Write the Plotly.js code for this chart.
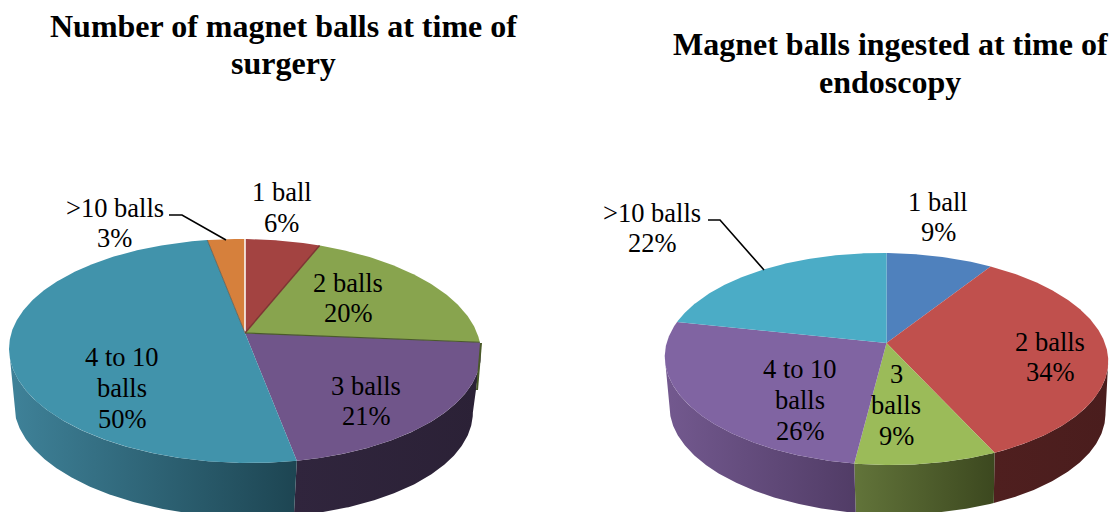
<!DOCTYPE html>
<html>
<head>
<meta charset="utf-8">
<script src="https://cdn.plot.ly/plotly-3.0.1.min.js"></script>
<style>html,body{margin:0;padding:0;background:#fff}#chart{width:1115px;height:512px}</style>
</head>
<body>
<div id="chart"></div>
<script>
// Survey results
const surgeryLabels = [['1 ball'], ['2 balls'], ['3 balls'], ['4 to 10', 'balls'], ['>10 balls']];
const surgeryValues = [6, 20, 21, 50, 3];
const endoscopyLabels = [['1 ball'], ['2 balls'], ['3', 'balls'], ['4 to 10', 'balls'], ['>10 balls']];
const endoscopyValues = [9, 34, 9, 26, 22];

// Slice colours: top face, then wall gradient left-to-right
const surgeryTop = ['#a34341', '#88a44e', '#70558a', '#4193ab', '#d6803c'];
const surgeryWall = [['#5c2625', '#5c2625'], ['#5c7034', '#4a5a28'], ['#30253d', '#2b2136'], ['#3f8299', '#1d4552'], ['#8a4f22', '#8a4f22']];
const endoscopyTop = ['#4f81bd', '#c0504d', '#9bbb59', '#8064a2', '#4bacc6'];
const endoscopyWall = [['#2e4d72', '#2e4d72'], ['#4f1f1f', '#4a1d1d'], ['#62743a', '#3c481f'], ['#73598f', '#513c66'], ['#2d6a7a', '#2d6a7a']];

// Perspective disc placement, in page pixels
const surgeryDisc = {cx: 245, cy: 333, a: 232.9, b: 109.1, k: 0.1607, dx: -1.5, dy: 58, shrink: 0.972, skew: 2.3, baseSkew: 4};
const endoscopyDisc = {cx: 886.5, cy: 343, a: 219.2, b: 103.6, k: 0.151, dx: 1, dy: 51.5, shrink: 0.983, skew: 2.3, baseSkew: 3.5};

function rim(d, deg, bottom) {
  const t = deg * Math.PI / 180, u = Math.sin(t), v = -Math.cos(t), w = 1 - d.k * v;
  const s = bottom ? d.shrink : 1, sk = bottom ? d.baseSkew : d.skew;
  return [d.cx + (bottom ? d.dx : 0) + d.a * s * u / w,
          d.cy + (bottom ? d.dy : 0) + (d.b * s * v + sk * u) / w];
}

function arc(d, from, to, bottom) {
  const n = Math.max(2, Math.ceil(Math.abs(to - from) * 2)), pts = [];
  for (let i = 0; i <= n; i++) pts.push(rim(d, from + (to - from) * i / n, bottom));
  return pts;
}

function pieTraces(values, topColors, wallColors, d) {
  const traces = [], edges = [];
  let acc = 0;
  values.forEach(v => { edges.push([acc, acc + v]); acc += v; });
  const base = {type: 'scatter', mode: 'lines', hoverinfo: 'skip', showlegend: false, line: {width: 0}};
  // The wall is visible only between the two silhouette angles of the disc
  const sil = Math.acos(-d.k) * 180 / Math.PI;
  edges.forEach((e, i) => {
    const a0 = Math.max(e[0] * 3.6, sil), a1 = Math.min(e[1] * 3.6, 360 - sil);
    if (a1 <= a0) return;
    const pts = arc(d, a0, a1, false).concat(arc(d, a1, a0, true));
    pts.push(pts[0]);
    traces.push(Object.assign({}, base, {
      x: pts.map(p => p[0]), y: pts.map(p => p[1]), fill: 'toself',
      fillgradient: {type: 'horizontal', colorscale: [[0, wallColors[i][0]], [1, wallColors[i][1]]]}
    }));
  });
  // Top faces
  edges.forEach((e, i) => {
    const pts = [[d.cx, d.cy]].concat(arc(d, e[0] * 3.6, e[1] * 3.6, false));
    pts.push([d.cx, d.cy]);
    traces.push(Object.assign({}, base, {
      x: pts.map(p => p[0]), y: pts.map(p => p[1]), fill: 'toself', fillcolor: topColors[i]
    }));
  });
  return traces;
}

// Thin seams between slices on the surgery disc
function seam(d, pct, color, width) {
  const p = rim(d, pct * 3.6, false);
  return {type: 'scatter', mode: 'lines', hoverinfo: 'skip', showlegend: false,
    x: [d.cx, p[0]], y: [d.cy, p[1]], line: {color: color, width: width}};
}

const cumulative = (vals, n) => vals.slice(0, n).reduce((s, v) => s + v, 0);

const traces = pieTraces(surgeryValues, surgeryTop, surgeryWall, surgeryDisc)
  .concat(pieTraces(endoscopyValues, endoscopyTop, endoscopyWall, endoscopyDisc))
  .concat([
    seam(surgeryDisc, 0, '#ffffff', 1.5),
    seam(surgeryDisc, cumulative(surgeryValues, 1), '#7d3533', 1.5),
    seam(surgeryDisc, cumulative(surgeryValues, 2), '#4a5a2a', 1.2),
    seam(surgeryDisc, cumulative(surgeryValues, 4), '#5a5a50', 0.8)
  ]);

const serif = '"Liberation Serif", "Times New Roman", serif';
const textLine = (text, x, y, size) => ({
  text: text, x: x, y: y, xref: 'x', yref: 'y', showarrow: false,
  xanchor: 'center', yanchor: 'middle', font: {family: serif, size: size, color: '#000'}
});
const sliceNote = (label, value, x, y) => {
  const lines = label.concat([value + '%']);
  return lines.map((t, i) => textLine(t, x, y + (i - (lines.length - 1) / 2) * 30.7, 26.5));
};

const surgeryAnchors = [[281.5, 207.5], [348, 298], [366, 401], [122, 388], [114.5, 223]];
const endoscopyAnchors = [[938, 217], [1050, 357], [896, 405], [800, 400], [652, 228]];

const annotations = [
  textLine('<b>Number of magnet balls at time of</b>', 283.5, 26, 32),
  textLine('<b>surgery</b>', 283, 63, 32),
  textLine('<b>Magnet balls ingested at time of</b>', 890.5, 44, 32),
  textLine('<b>endoscopy</b>', 889.5, 82, 32)
].concat(
  ...surgeryValues.map((v, i) => sliceNote(surgeryLabels[i], v, surgeryAnchors[i][0], surgeryAnchors[i][1])),
  ...endoscopyValues.map((v, i) => sliceNote(endoscopyLabels[i], v, endoscopyAnchors[i][0], endoscopyAnchors[i][1]))
);

// Leader lines for the two outside labels, plus the sliver of the 2-balls wall
const stroke = (path, color, width) => ({type: 'path', path: path, xref: 'x', yref: 'y', line: {color: color, width: width}});
const shapes = [
  stroke('M 169 215 L 182 215 L 226 240', '#000', 1.6),
  stroke('M 708 220 L 720 220 L 764 270', '#000', 1.6),
  stroke('M 481 343 L 477 390', '#4a5a28', 2)
];

Plotly.newPlot('chart', traces, {
  width: 1115, height: 512, margin: {l: 0, r: 0, t: 0, b: 0},
  paper_bgcolor: '#fff', plot_bgcolor: '#fff', showlegend: false,
  xaxis: {range: [0, 1115], visible: false, fixedrange: true},
  yaxis: {range: [512, 0], visible: false, fixedrange: true},
  annotations: annotations, shapes: shapes
}, {staticPlot: true, displayModeBar: false});
</script>
</body>
</html>
